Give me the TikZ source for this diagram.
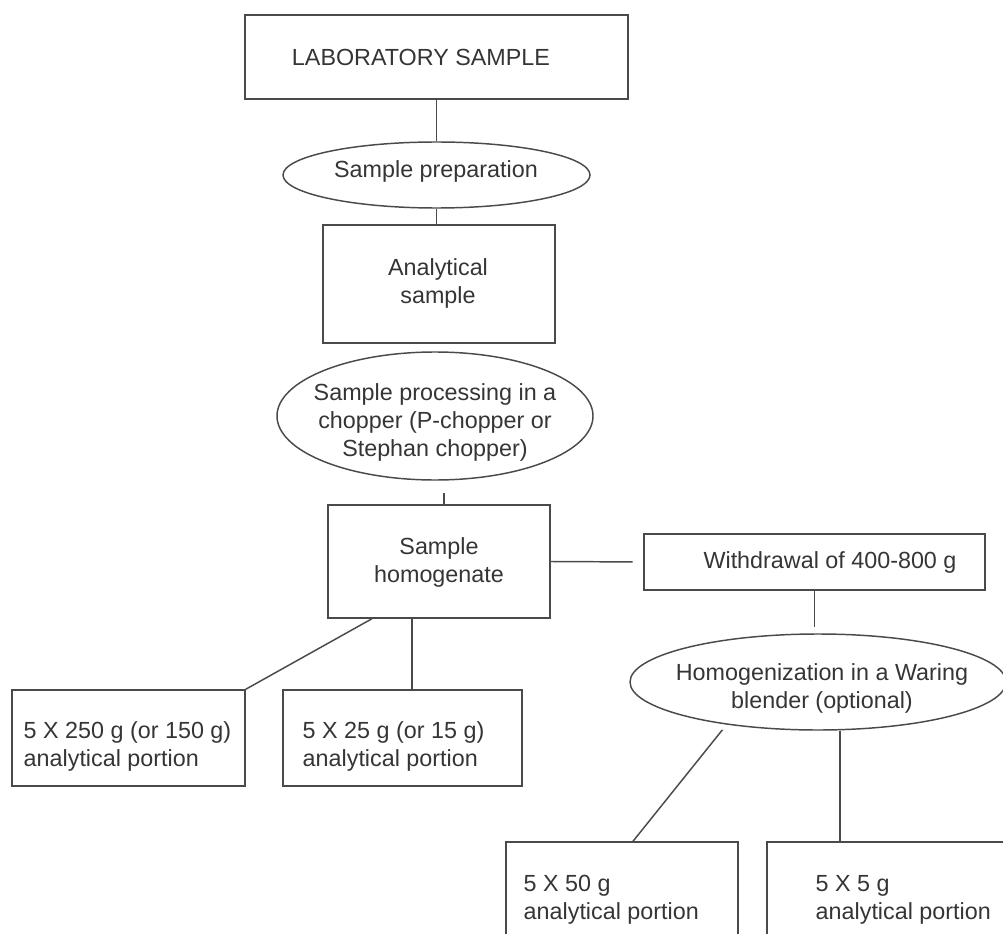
\documentclass[tikz,border=0pt]{standalone}
\usepackage{fontspec}
\setmainfont{Liberation Sans}
\usetikzlibrary{shapes.geometric}
\usetikzlibrary{calc}
\definecolor{linegray}{HTML}{4A4A4A}
\definecolor{textgray}{HTML}{353535}
\tikzset{every picture/.style={line width=1.1pt}}
\tikzset{
  flowbox/.style={draw=linegray, rectangle, inner sep=0pt},
  flowoval/.style={draw=linegray, ellipse, inner sep=0pt},
  flowtext/.style={text=textgray, inner sep=0pt, font=\fontsize{17.5}{21}\selectfont, align=center},
  flowlink/.style={draw=linegray}
}

\begin{document}
\begin{tikzpicture}[x=0.75pt,y=0.75pt,yscale=-1,xscale=1]
\useasboundingbox (0,0) rectangle (1003,934);
\clip (0,0) rectangle (1003,934);

%Shape: Rectangle
\node [flowbox, minimum width=287.25pt, minimum height=63pt] (lab) at (436.5,57) {};
%Shape: Ellipse
\node [flowoval, minimum width=230.25pt, minimum height=49.5pt] (prep) at (436.5,175) {};
%Shape: Rectangle
\node [flowbox, minimum width=174pt, minimum height=88.5pt] (ana) at (439,284) {};
%Shape: Ellipse
\node [flowoval, minimum width=237pt, minimum height=96pt] (proc) at (435,416) {};
%Shape: Rectangle
\node [flowbox, minimum width=166.5pt, minimum height=84.75pt] (homog) at (439,561.5) {};
%Shape: Rectangle
\node [flowbox, minimum width=255.75pt, minimum height=42pt] (withd) at (814.5,562) {};
%Shape: Ellipse
\node [flowoval, minimum width=282pt, minimum height=72pt] (blend) at (818,682) {};
%Shape: Rectangle
\node [flowbox, minimum width=174.75pt, minimum height=72pt] (p250) at (128.5,738) {};
%Shape: Rectangle
\node [flowbox, minimum width=179.25pt, minimum height=72pt] (p25) at (402.5,738) {};
%Shape: Rectangle
\node [flowbox, minimum width=174pt, minimum height=88.5pt] (p50) at (622,901) {};
%Shape: Rectangle
\node [flowbox, minimum width=186pt, minimum height=88.5pt] (p5) at (891,901) {};

\coordinate (hsa) at ($(homog.south west)!0.2!(homog.south east)$);
\coordinate (hsb) at ($(homog.south west)!0.38!(homog.south east)$);

%Straight Lines
\draw [flowlink] (lab.south) -- (prep.north);
%Straight Lines
\draw [flowlink] (prep.south) -- (prep.south |- ana.north);
%Straight Lines
\draw [flowlink, shorten >=9pt] ([xshift=3.75pt]homog.north) -- ([xshift=3.75pt]homog.north |- proc.south);
%Straight Lines
\draw [flowlink, shorten >=8pt] (homog.east) -- (withd.west);
%Straight Lines
\draw [flowlink, shorten >=4.5pt] (withd.south) -- (withd.south |- blend.north);
%Straight Lines
\draw [flowlink] (hsa) -- (p250.north east);
%Straight Lines
\draw [flowlink] (hsb) -- (hsb |- p25.north);
%Straight Lines
\draw [flowlink, shorten <=5pt] (blend.205) -- ([xshift=8.25pt]p50.north);
%Straight Lines
\draw [flowlink] ([xshift=16.5pt]blend.south) -- ([xshift=16.5pt]blend.south |- p5.north);

% Text Node
\node [flowtext] (labtxt) at (421,57) {LABORATORY SAMPLE};
% Text Node
\node [flowtext] (preptxt) at (436,171) {Sample preparation};
% Text Node
\node [flowtext] (anatxt) at (438,283) {Analytical\\sample};
% Text Node
\node [flowtext] (proctxt) at (435,422) {Sample processing in a\\chopper (P-chopper or\\Stephan chopper)};
% Text Node
\node [flowtext] (homogtxt) at (439,562) {Sample\\homogenate};
% Text Node
\node [flowtext] (withdtxt) at (830,562) {Withdrawal of 400-800 g};
% Text Node
\node [flowtext] (blendtxt) at (822,688) {Homogenization in a Waring\\blender (optional)};
% Text Node
\node [flowtext, anchor=west, align=left] (p250txt) at (23,746) {5 X 250 g (or 150 g)\\analytical portion};
% Text Node
\node [flowtext, anchor=west, align=left] (p25txt) at (302,746) {5 X 25 g (or 15 g)\\analytical portion};
% Text Node
\node [flowtext, anchor=west, align=left] (p50txt) at (523,900) {5 X 50 g\\analytical portion};
% Text Node
\node [flowtext, anchor=west, align=left] (p5txt) at (815,900) {5 X 5 g\\analytical portion};

\end{tikzpicture}
\end{document}
